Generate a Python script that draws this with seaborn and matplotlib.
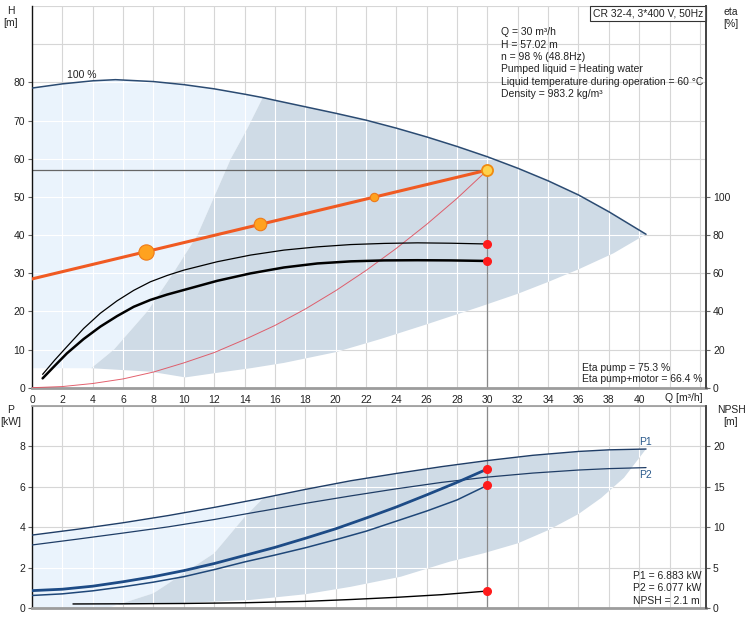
import numpy as np
import matplotlib
matplotlib.use('Agg')
import matplotlib.pyplot as plt
from matplotlib.patches import Polygon
import seaborn as sns

sns.set_theme(style='white')
plt.rcParams['font.family'] = ['Liberation Sans', 'DejaVu Sans']
FS = 7.5

# ---------------- data ----------------
# top panel, H [m] against Q [m3/h]
q_max = [0, 2, 4, 5.5, 8, 10, 12, 14, 15.2, 16, 18, 20, 22, 24, 26, 28, 30, 32, 34, 36, 38, 40.45]
h_max = [78.5, 79.6, 80.4, 80.7, 80.2, 79.4, 78.3, 76.9, 76.0, 75.3, 73.6, 71.9, 70.1, 68.0, 65.7, 63.2,
         60.5, 57.5, 54.2, 50.5, 46.1, 40.2]

# edges of the recommended (grey) area
q_rec_left = [3.9, 5.4, 7.6, 9.3, 10.9, 12.0, 13.1, 14.2, 15.2]
h_rec_left = [5.1, 10, 20, 30, 40, 50, 60, 68, 76.0]
q_rec_low = [3.9, 7.8, 10.1, 12.2, 14.4, 16.6, 20, 23, 26, 29.5, 32, 34, 36, 38.3, 40.45]
h_rec_low = [5.1, 4.2, 2.7, 3.9, 5.1, 6.5, 9.3, 12.8, 16.6, 21.2, 24.6, 27.7, 31.0, 35.2, 40.2]
h_light_floor = 5.1

# duty line and points
q_duty = [0, 30]
h_duty = [28.5, 57.02]
q_duty_pts = [7.5, 15, 22.5]
h_duty_pts = [35.6, 42.8, 49.9]
duty_pt_size = [11, 9, 6]
q_op, h_op = 30, 57.02

# system curve
q_sys = [0, 2, 4, 6, 8, 10, 12, 14, 16, 18, 20, 22, 24, 26, 28, 30]
h_sys = [0, 0.3, 1.1, 2.3, 4.1, 6.5, 9.2, 12.6, 16.3, 20.6, 25.4, 30.7, 36.5, 42.8, 49.6, 57.02]

# efficiency [%]
q_eta = [0.7, 1.5, 2.3, 3.4, 4.5, 5.6, 6.7, 7.8, 8.9, 10, 12.2, 14.4, 16.6, 18.8, 21, 23.2, 25.4, 27.6, 30]
eta_pump = [7, 14.5, 21.5, 31, 39, 45.5, 51, 55.5, 58.8, 61.6, 66, 69.5, 72.1, 73.8, 75.0, 75.6, 75.9, 75.7, 75.3]
eta_total = [4.9, 11.5, 18, 25.5, 32, 37.5, 42.4, 46, 48.8, 51.2, 56, 59.9, 63, 65.1, 66.2, 66.7, 66.8, 66.7, 66.4]

# bottom panel, P [kW] and NPSH [m]
q_pmax = [0, 3, 6, 9, 12, 15, 15.25, 18, 21, 24, 27, 30, 33, 36, 38, 40.45]
p1_max = [3.61, 3.9, 4.22, 4.58, 4.98, 5.41, 5.45, 5.87, 6.3, 6.66, 7.0, 7.3, 7.56, 7.75, 7.83, 7.87]
p2_max = [3.12, 3.41, 3.71, 4.02, 4.38, 4.78, 4.81, 5.18, 5.55, 5.9, 6.22, 6.48, 6.68, 6.83, 6.9, 6.95]

q_p = [0, 2, 4, 6, 8, 10, 12, 14, 16, 18, 20, 22, 24, 26, 28, 30]
p1 = [0.86, 0.93, 1.08, 1.3, 1.55, 1.85, 2.2, 2.6, 3.0, 3.45, 3.92, 4.45, 5.0, 5.6, 6.22, 6.883]
p2 = [0.62, 0.7, 0.85, 1.05, 1.28, 1.55, 1.9, 2.28, 2.62, 2.98, 3.38, 3.8, 4.3, 4.8, 5.35, 6.077]

q_npsh = [2.7, 6, 10, 14, 18, 21, 24, 27, 30]
npsh = [0.5, 0.52, 0.56, 0.65, 0.82, 1.05, 1.32, 1.65, 2.1]

q_prec_left = [5.0, 5.6, 8.0, 10.0, 12.0, 14.0, 15.25]
p_prec_left = [0.0, 0.15, 0.73, 1.72, 2.71, 4.5, 5.45]
q_prec_low = [5.6, 10, 14.4, 18, 21, 24.3, 27.5, 29.75, 32, 34, 36, 37.5, 39, 40.45]
p_prec_low = [0.15, 0.25, 0.4, 0.68, 1.05, 1.55, 2.29, 2.71, 3.2, 3.85, 4.65, 5.45, 6.45, 7.87]

info_lines = ['Q = 30 m³/h', 'H = 57.02 m', 'n = 98 % (48.8Hz)', 'Pumped liquid = Heating water',
              'Liquid temperature during operation = 60 °C', 'Density = 983.2 kg/m³']
eta_lines = ['Eta pump = 75.3 %', 'Eta pump+motor = 66.4 %']
p_lines = ['P1 = 6.883 kW', 'P2 = 6.077 kW', 'NPSH = 2.1 m']

# ---------------- style ----------------
LIGHT = '#eaf3fc'
GREY = '#cfdbe6'
GRID = '#d6d6d6'
CURVE = '#2b4b72'
BLUE = '#1d4b86'
ORANGE = '#f05a22'
RED = '#ff1b1b'

W, H = 749, 627
fig = plt.figure(figsize=(W / 100, H / 100), dpi=100)
X0, X1 = 32, 706
ax = fig.add_axes([X0 / W, 1 - 387.7 / H, (X1 - X0) / W, (387.7 - 6) / H])
axb = fig.add_axes([X0 / W, 1 - 608 / H, (X1 - X0) / W, (608 - 406) / H])
XMAX = 44.4
q_grid = np.arange(2, 46, 2)


def draw_grid(a, ys, ymax, patches):
    a.vlines(q_grid, 0, ymax, colors=GRID, lw=0.8, zorder=0.5)
    a.hlines(ys, 0, XMAX, colors=GRID, lw=0.8, zorder=0.5)
    for p in patches:
        v = a.vlines(q_grid, 0, ymax, colors='white', lw=0.8, zorder=1.5)
        h = a.hlines(ys, 0, XMAX, colors='white', lw=0.8, zorder=1.5)
        v.set_clip_path(p)
        h.set_clip_path(p)


def style_axes(a):
    a.set_xlim(0, XMAX)
    a.set_facecolor('white')
    for s in a.spines.values():
        s.set_visible(True)
    a.spines['left'].set_color('#111111')
    a.spines['left'].set_linewidth(1.0)
    a.spines['right'].set_color('#444444')
    a.spines['bottom'].set_color('#9c9c9c')
    a.spines['bottom'].set_linewidth(2.0)
    a.spines['top'].set_color('#9c9c9c')
    a.tick_params(axis='both', direction='out', length=3, width=0.8, color='#666666',
                  labelsize=FS, pad=2, labelcolor='#222222')


# ---------------- top panel ----------------
style_axes(ax)
ax.spines['top'].set_visible(False)
ax.set_ylim(0, 100)

qm = np.array(q_max)
hm = np.array(h_max)
upto = qm <= 15.2
light_xy = np.vstack([np.column_stack([qm[upto], hm[upto]]),
                      np.column_stack([q_rec_left[::-1], h_rec_left[::-1]]),
                      [[0, h_light_floor]]])
light = Polygon(light_xy, closed=True, fc=LIGHT, ec='none', zorder=1)
ax.add_patch(light)
grey_xy = np.vstack([np.column_stack([q_rec_left, h_rec_left]),
                     np.column_stack([qm[~upto], hm[~upto]]),
                     np.column_stack([q_rec_low[::-1], h_rec_low[::-1]])])
grey = Polygon(grey_xy, closed=True, fc=GREY, ec='none', zorder=1.2)
ax.add_patch(grey)
draw_grid(ax, np.arange(10, 101, 10), 100, [light, grey])

sns.lineplot(x=q_max, y=h_max, ax=ax, color=CURVE, lw=1.1, sort=False, estimator=None, zorder=3)
ax.hlines(h_op, 0, q_op, colors='#666666', lw=0.9, zorder=2)
ax.vlines(q_op, 0, h_op, colors='#8a8a8a', lw=0.9, zorder=2)
sns.lineplot(x=q_sys, y=h_sys, ax=ax, color='#e0505e', lw=0.7, alpha=0.9, sort=False, estimator=None, zorder=3)
sns.lineplot(x=q_duty, y=h_duty, ax=ax, color=ORANGE, lw=2.2, sort=False, estimator=None, zorder=4)
for qx, hy, ms in zip(q_duty_pts, h_duty_pts, duty_pt_size):
    ax.plot(qx, hy, 'o', ms=ms, mfc='#ffa21f', mec='#ee7a1a', mew=0.8, zorder=5)
ax.plot(q_op, h_op, 'o', ms=8, mfc='#ffd24a', mec='#f08a10', mew=1.3, zorder=5)

ax.set_yticks(np.arange(0, 81, 10))
ax.set_xticks(np.arange(0, 46, 2))
ax.set_xticklabels([str(v) if v <= 40 else '' for v in range(0, 46, 2)])
ax.text(2.3, 81.9, '100 %', fontsize=FS, va='center', ha='left', color='#222222', zorder=6)

axr = ax.twinx()
axr.set_ylim(0, 200)
axr.set_xlim(0, XMAX)
for s in axr.spines.values():
    s.set_visible(False)
axr.spines['right'].set_visible(True)
axr.spines['right'].set_color('#444444')
axr.set_yticks(np.arange(0, 101, 20))
axr.tick_params(axis='y', direction='out', length=3, width=0.8, color='#666666', labelsize=FS, pad=2,
                labelcolor='#222222')
axr.grid(False)
sns.lineplot(x=q_eta, y=eta_pump, ax=axr, color='black', lw=0.9, sort=False, estimator=None)
sns.lineplot(x=q_eta, y=eta_total, ax=axr, color='black', lw=1.8, sort=False, estimator=None)
axr.plot([q_eta[-1], q_eta[-1]], [eta_pump[-1], eta_total[-1]], 'o', ms=5.5, color=RED, ls='none')

# ---------------- bottom panel ----------------
style_axes(axb)
axb.set_ylim(0, 10)
qpm = np.array(q_pmax)
p1m = np.array(p1_max)
bup = qpm <= 15.25
blight_xy = np.vstack([[[0, 0]], np.column_stack([qpm[bup], p1m[bup]]),
                       np.column_stack([q_prec_left[::-1], p_prec_left[::-1]])])
blight = Polygon(blight_xy, closed=True, fc=LIGHT, ec='none', zorder=1)
axb.add_patch(blight)
bgrey_xy = np.vstack([np.column_stack([q_prec_left[1:], p_prec_left[1:]]),
                      np.column_stack([qpm[~bup], p1m[~bup]]),
                      np.column_stack([q_prec_low[::-1], p_prec_low[::-1]])])
bgrey = Polygon(bgrey_xy, closed=True, fc=GREY, ec='none', zorder=1.2)
axb.add_patch(bgrey)
draw_grid(axb, np.arange(2, 11, 2), 10, [blight, bgrey])
axb.vlines(30, 0, 10, colors='#8a8a8a', lw=0.9, zorder=2)

sns.lineplot(x=q_pmax, y=p1_max, ax=axb, color='#1f3d66', lw=1.0, sort=False, estimator=None, zorder=3)
sns.lineplot(x=q_pmax, y=p2_max, ax=axb, color='#1f3d66', lw=0.9, sort=False, estimator=None, zorder=3)
sns.lineplot(x=q_p, y=p1, ax=axb, color=BLUE, lw=2.0, sort=False, estimator=None, zorder=3)
sns.lineplot(x=q_p, y=p2, ax=axb, color='#1f4778', lw=1.1, sort=False, estimator=None, zorder=3)
axb.plot([q_p[-1], q_p[-1]], [p1[-1], p2[-1]], 'o', ms=5.5, color=RED, ls='none', zorder=5)
axb.text(40.0, 8.23, 'P1', fontsize=FS, color='#2b5a8c', va='center', ha='left')
axb.text(40.0, 6.58, 'P2', fontsize=FS, color='#2b5a8c', va='center', ha='left')
axb.set_yticks(np.arange(0, 9, 2))
axb.set_xticks(np.arange(0, 46, 2))
axb.tick_params(axis='x', bottom=False, labelbottom=False)

axbr = axb.twinx()
axbr.set_ylim(0, 25)
axbr.set_xlim(0, XMAX)
for s in axbr.spines.values():
    s.set_visible(False)
axbr.spines['right'].set_visible(True)
axbr.spines['right'].set_color('#444444')
axbr.set_yticks(np.arange(0, 21, 5))
axbr.tick_params(axis='y', direction='out', length=3, width=0.8, color='#666666', labelsize=FS, pad=2,
                 labelcolor='#222222')
axbr.grid(False)
sns.lineplot(x=q_npsh, y=npsh, ax=axbr, color='black', lw=1.0, sort=False, estimator=None)
axbr.plot(q_npsh[-1], npsh[-1], 'o', ms=5.5, color=RED)

# ---------------- texts ----------------
def ftext(px, py, s, **kw):
    kw.setdefault('fontsize', FS)
    kw.setdefault('color', '#222222')
    fig.text(px / W, 1 - py / H, s, **kw)


ftext(11, 17, 'H\n[m]', ha='center', va='center', linespacing=1.3)
ftext(731, 18, 'eta\n[%]', ha='center', va='center', linespacing=1.3)
ftext(11, 416, 'P\n[kW]', ha='center', va='center', linespacing=1.3)
ftext(731, 416, 'NPSH\n[m]', ha='center', va='center', linespacing=1.3)
ftext(703, 398, 'Q [m³/h]', ha='right', va='center')

ax.text(0.996, 0.994, 'CR 32-4, 3*400 V, 50Hz', transform=ax.transAxes, ha='right', va='top',
        fontsize=FS, color='#222222', zorder=7,
        bbox=dict(boxstyle='square,pad=0.25', fc='white', ec='#333333', lw=0.8))
for i, s in enumerate(info_lines):
    ftext(500.7, 32.3 + i * 12.4, s, ha='left', va='center')
for i, s in enumerate(eta_lines):
    ftext(581.7, 367.7 + i * 11.6, s, ha='left', va='center')
for i, s in enumerate(p_lines):
    ftext(633.3, 576 + i * 12.3, s, ha='left', va='center')

fig.savefig('out.png', dpi=100)
